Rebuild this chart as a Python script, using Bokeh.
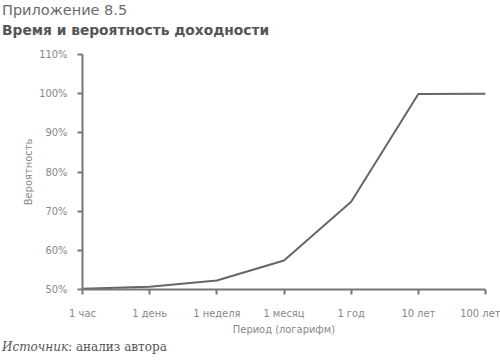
from bokeh.plotting import figure
from bokeh.models import Range1d, FixedTicker, Div
from bokeh.layouts import column
from bokeh.embed import file_html
from bokeh.resources import INLINE

periods = ["1 час", "1 день", "1 неделя", "1 месяц", "1 год", "10 лет", "100 лет"]
probability = [50.2, 50.7, 52.3, 57.4, 72.4, 99.9, 100.0]
y_ticks = [50, 60, 70, 80, 90, 100, 110]

COND = "DejaVu Sans Condensed"
AXIS_C = "#777777"
TEXT_C = "#888888"

xs = list(range(len(periods)))

header = Div(
    text=("<div style='line-height:20px;font-size:14.5px;color:#6a6a6a'>Приложение 8.5</div>"
          "<div style='line-height:20px;font-size:13.8px;font-weight:bold;color:#555555'>"
          "Время и вероятность доходности</div>"),
    width=500, height=40,
    styles={"margin": "0", "padding": "0 0 0 2px", "font-family": "'DejaVu Sans', sans-serif"})

p = figure(width=500, height=300, output_backend="svg", toolbar_location=None,
           x_range=Range1d(0, len(periods) - 1), y_range=Range1d(50, 110),
           min_border_left=82, min_border_right=15, min_border_top=14, min_border_bottom=51)
p.outline_line_color = None
p.grid.visible = False
p.background_fill_color = "white"
p.border_fill_color = "white"

p.line(xs, probability, line_color="#666666", line_width=2)

p.xaxis.ticker = FixedTicker(ticks=xs)
p.xaxis.major_label_overrides = {i: s for i, s in enumerate(periods)}
p.yaxis.ticker = FixedTicker(ticks=y_ticks)
p.yaxis.major_label_overrides = {v: f"{v}%" for v in y_ticks}

for ax in (p.xaxis[0], p.yaxis[0]):
    ax.axis_line_color = AXIS_C
    ax.axis_line_width = 2
    ax.major_tick_line_color = AXIS_C
    ax.major_tick_line_width = 2
    ax.major_tick_in = 0
    ax.major_tick_out = 5
    ax.minor_tick_line_color = None
    ax.major_label_text_font = COND
    ax.major_label_text_font_size = "11px"
    ax.major_label_text_color = TEXT_C
    ax.axis_label_text_font = COND
    ax.axis_label_text_font_size = "11px"
    ax.axis_label_text_color = TEXT_C
    ax.axis_label_text_font_style = "normal"

p.xaxis.axis_label = "Период (логарифм)"
p.xaxis.major_label_standoff = 12
p.xaxis.axis_label_standoff = 0
p.yaxis.axis_label = "Вероятность"
p.yaxis.major_label_standoff = 10
p.yaxis.axis_label_standoff = 1

source = Div(text="<i>Источник</i>: анализ автора", width=500, height=22,
             styles={"margin": "0", "padding": "0 0 0 2px", "font-family": "'DejaVu Serif', serif",
                     "font-size": "12px", "color": "#555555", "line-height": "14px"})

layout = column(header, p, source, spacing=0)
open("out.html", "w").write(file_html(layout, INLINE))
